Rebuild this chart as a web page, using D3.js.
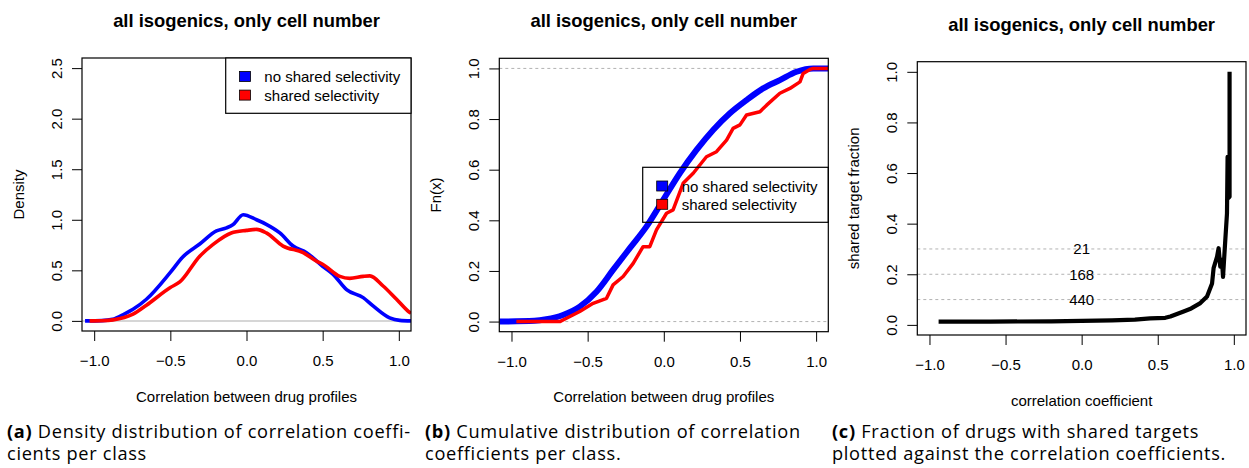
<!DOCTYPE html>
<html><head><meta charset="utf-8">
<script src="https://cdn.jsdelivr.net/npm/d3@7"></script>
<style>body{margin:0;background:#fff} svg{display:block}</style>
</head><body>
<svg id="c" width="1249" height="468"></svg>
<script>
// ---------- data ----------
const xTicks = [-1.0, -0.5, 0.0, 0.5, 1.0];
const densityTicks = [0, 0.5, 1.0, 1.5, 2.0, 2.5];
const fractionTicks = [0, 0.2, 0.4, 0.6, 0.8, 1.0];
const panelTitle = "all isogenics, only cell number";
const seriesNames = ["no shared selectivity", "shared selectivity"];
const seriesColors = ["#0000ff", "#ff0000"];

// (a) density
const densNoSharedX = [-1.06,-0.95,-0.88,-0.8,-0.745,-0.657,-0.5,-0.42,-0.307,-0.197,-0.131,-0.09,-0.022,0.066,0.13,0.219,0.306,0.394,0.5,0.569,0.657,0.766,0.831,0.94,1.006,1.08];
const densNoShared  = [0,0.003,0.015,0.07,0.115,0.214,0.48,0.63,0.76,0.89,0.92,0.95,1.05,1.0,0.955,0.87,0.74,0.675,0.54,0.46,0.31,0.23,0.148,0.03,0.005,0];
const densSharedX = [-1.03,-0.95,-0.876,-0.745,-0.657,-0.5,-0.438,-0.307,-0.219,-0.1,0,0.066,0.13,0.24,0.372,0.46,0.5,0.613,0.678,0.766,0.81,0.897,0.985,1.072,1.08];
const densShared  = [0,0.002,0.01,0.066,0.155,0.33,0.385,0.64,0.757,0.87,0.895,0.905,0.87,0.74,0.675,0.59,0.56,0.44,0.42,0.44,0.445,0.345,0.214,0.083,0.075];

// (b) ecdf
const ecdfNoSharedX = [-1.08,-0.85,-0.771,-0.662,-0.552,-0.442,-0.333,-0.223,-0.114,-0.005,0.105,0.215,0.324,0.434,0.543,0.652,0.762,0.872,0.981,1.08];
const ecdfNoShared  = [0,0.003,0.009,0.026,0.059,0.118,0.204,0.29,0.375,0.48,0.586,0.678,0.757,0.823,0.875,0.921,0.954,0.987,1.0,1.0];
const ecdfSharedX = [-0.968,-0.683,-0.639,-0.552,-0.464,-0.376,-0.333,-0.267,-0.201,-0.136,-0.092,-0.048,0.018,0.061,0.127,0.193,0.28,0.346,0.412,0.455,0.5,0.543,0.631,0.675,0.762,0.828,0.894,0.915,0.959,0.981,1.08];
const ecdfShared  = [0,0,0.013,0.04,0.072,0.092,0.145,0.178,0.23,0.296,0.296,0.362,0.428,0.441,0.546,0.586,0.651,0.671,0.717,0.763,0.777,0.816,0.829,0.855,0.902,0.921,0.947,0.98,0.996,1.0,1.0];

// (c) shared target fraction
const fracX = [-0.94,-0.6,-0.2,0.0,0.2,0.35,0.45,0.55,0.583,0.67,0.72,0.78,0.824,0.857,0.867,0.89,0.9,0.911,0.922,0.929,0.944,0.955,0.959,0.962,0.972,0.972];
const fracY = [0.013,0.013,0.014,0.016,0.018,0.021,0.026,0.028,0.033,0.053,0.065,0.086,0.112,0.164,0.224,0.27,0.303,0.23,0.257,0.19,0.336,0.44,0.664,0.5,0.506,1.0];
const countLevels = [0.3, 0.2, 0.1];
const countLabels = ["21", "168", "440"];

// captions
const captionTags = ["(a)", "(b)", "(c)"];
const captionLines = [
  ["Density distribution of correlation coeffi-", "cients per class"],
  ["Cumulative distribution of correlation", "coefficients per class."],
  ["Fraction of drugs with shared targets", "plotted against the correlation coefficients."]
];

// ---------- drawing ----------
const svg = d3.select("#c");
const FONT = "'Liberation Sans', Arial, Helvetica, sans-serif";
const fmt1 = d3.format(".1f");

function panel(cfg) {
  const x = d3.scaleLinear().domain([-1.08, 1.08]).range([cfg.left, cfg.right]);
  const y = d3.scaleLinear().domain(cfg.yDomain).range([cfg.bottom, cfg.top]);
  const g = svg.append("g");
  const cid = "clip" + cfg.id;
  svg.append("clipPath").attr("id", cid).append("rect")
    .attr("x", cfg.left).attr("y", cfg.top)
    .attr("width", cfg.right - cfg.left).attr("height", cfg.bottom - cfg.top);
  const plot = g.append("g").attr("clip-path", `url(#${cid})`);

  const xa = g.append("g").attr("transform", `translate(0,${cfg.bottom})`)
    .call(d3.axisBottom(x).tickValues(xTicks).tickSize(10).tickFormat(fmt1));
  xa.select(".domain").remove();
  xa.selectAll("text").attr("y", 35).attr("dy", 0)
    .attr("font-family", FONT).attr("font-size", 15).attr("fill", "#000");
  xa.selectAll("line").attr("stroke", "#000");

  const ya = g.append("g").attr("transform", `translate(${cfg.left},0)`)
    .call(d3.axisLeft(y).tickValues(cfg.yTicks).tickSize(10).tickFormat(fmt1));
  ya.select(".domain").remove();
  ya.selectAll("text").attr("x", 0).attr("y", -20.5).attr("dy", 0)
    .attr("transform", "rotate(-90)").attr("text-anchor", "middle")
    .attr("font-family", FONT).attr("font-size", 15).attr("fill", "#000");
  ya.selectAll("line").attr("stroke", "#000");

  g.append("rect").attr("x", cfg.left).attr("y", cfg.top)
    .attr("width", cfg.right - cfg.left).attr("height", cfg.bottom - cfg.top)
    .attr("fill", "none").attr("stroke", "#000").attr("stroke-width", 1.2);

  g.append("text").attr("x", (cfg.left + cfg.right) / 2).attr("y", cfg.top - 31)
    .attr("text-anchor", "middle").attr("font-family", FONT).attr("font-weight", "bold")
    .attr("font-size", 18.4).text(panelTitle);
  g.append("text").attr("x", (cfg.left + cfg.right) / 2).attr("y", cfg.bottom + 70.5)
    .attr("text-anchor", "middle").attr("font-family", FONT).attr("font-size", 15).text(cfg.xlabel);
  g.append("text")
    .attr("transform", `translate(${cfg.left - 58},${(cfg.top + cfg.bottom) / 2}) rotate(-90)`)
    .attr("text-anchor", "middle").attr("font-family", FONT).attr("font-size", 15).text(cfg.ylabel);

  return {x, y, plot, g};
}

// ---- panel a ----
(function () {
  const p = panel({id: "a", left: 82, right: 411, top: 58, bottom: 331, yDomain: [-0.1, 2.6],
    yTicks: densityTicks, xlabel: "Correlation between drug profiles", ylabel: "Density"});
  p.plot.append("line").attr("x1", 82).attr("x2", 411).attr("y1", p.y(0)).attr("y2", p.y(0))
    .attr("stroke", "#c8c8c8").attr("stroke-width", 1.5);
  const line = d3.line().x(d => p.x(d[0])).y(d => p.y(d[1])).curve(d3.curveMonotoneX);
  p.plot.append("path").datum(d3.zip(densNoSharedX, densNoShared)).attr("d", line)
    .attr("fill", "none").attr("stroke", seriesColors[0]).attr("stroke-width", 3.6);
  p.plot.append("path").datum(d3.zip(densSharedX, densShared)).attr("d", line)
    .attr("fill", "none").attr("stroke", seriesColors[1]).attr("stroke-width", 3.6);
  const lg = p.g.append("g");
  lg.append("rect").attr("x", 225.7).attr("y", 58).attr("width", 411 - 225.7).attr("height", 55.3)
    .attr("fill", "#fff").attr("stroke", "#000").attr("stroke-width", 1.2);
  seriesNames.forEach((n, i) => {
    lg.append("rect").attr("x", 239.5).attr("y", 71.5 + i * 18.6).attr("width", 11).attr("height", 10)
      .attr("fill", seriesColors[i]).attr("stroke", "#000").attr("stroke-width", 0.8);
    lg.append("text").attr("x", 264.3).attr("y", 82 + i * 18.6).attr("font-family", FONT)
      .attr("font-size", 15).text(n);
  });
})();

// ---- panel b ----
(function () {
  const p = panel({id: "b", left: 499.3, right: 828.3, top: 58.3, bottom: 331.7, yDomain: [-0.04, 1.04],
    yTicks: fractionTicks, xlabel: "Correlation between drug profiles", ylabel: "Fn(x)"});
  [0, 1].forEach(v => p.plot.append("line").attr("x1", 499.3).attr("x2", 828.3)
    .attr("y1", p.y(v)).attr("y2", p.y(v)).attr("stroke", "#b3b3b3").attr("stroke-width", 1)
    .attr("stroke-dasharray", "3,3"));
  const line = d3.line().x(d => p.x(d[0])).y(d => p.y(d[1])).curve(d3.curveMonotoneX);
  p.plot.append("path").datum(d3.zip(ecdfNoSharedX, ecdfNoShared)).attr("d", line)
    .attr("fill", "none").attr("stroke", seriesColors[0]).attr("stroke-width", 6);
  const stepLine = d3.line().x(d => p.x(d[0])).y(d => p.y(d[1])).curve(d3.curveLinear);
  p.plot.append("path").datum(d3.zip(ecdfSharedX, ecdfShared)).attr("d", stepLine)
    .attr("fill", "none").attr("stroke", seriesColors[1]).attr("stroke-width", 3.5)
    .attr("stroke-linejoin", "round");
  const lg = p.g.append("g");
  lg.append("rect").attr("x", 642.7).attr("y", 167.3).attr("width", 828.3 - 642.7).attr("height", 55)
    .attr("fill", "none").attr("stroke", "#000").attr("stroke-width", 1.2);
  seriesNames.forEach((n, i) => {
    lg.append("rect").attr("x", 656.7).attr("y", 181 + i * 18.3).attr("width", 11).attr("height", 10)
      .attr("fill", seriesColors[i]).attr("stroke", "#000").attr("stroke-width", 0.8);
    lg.append("text").attr("x", 681.7).attr("y", 191.5 + i * 18.3).attr("font-family", FONT)
      .attr("font-size", 15).text(n);
  });
})();

// ---- panel c ----
(function () {
  const p = panel({id: "c", left: 917.3, right: 1246, top: 61.7, bottom: 335, yDomain: [-0.04, 1.04],
    yTicks: fractionTicks, xlabel: "correlation coefficient", ylabel: "shared target fraction"});
  countLevels.forEach((lv, i) => {
    p.plot.append("line").attr("x1", 917.3).attr("x2", 1246).attr("y1", p.y(lv)).attr("y2", p.y(lv))
      .attr("stroke", "#b3b3b3").attr("stroke-width", 1).attr("stroke-dasharray", "3,3");
    p.g.append("text").attr("x", p.x(0)).attr("y", p.y(lv) + 5.5).attr("text-anchor", "middle")
      .attr("font-family", FONT).attr("font-size", 15).text(countLabels[i]);
  });
  const line = d3.line().x(d => p.x(d[0])).y(d => p.y(d[1]));
  p.plot.append("path").datum(d3.zip(fracX, fracY)).attr("d", line)
    .attr("fill", "none").attr("stroke", "#000").attr("stroke-width", 4.2)
    .attr("stroke-linejoin", "round");
})();

// ---- captions ----
const capX = [7, 425, 832];
const CFONT = "'Open Sans', 'Noto Sans', sans-serif";
captionTags.forEach((tag, i) => {
  const t = svg.append("text").attr("x", capX[i]).attr("y", 438).attr("font-family", CFONT)
    .attr("font-size", 18.2).attr("letter-spacing", 0.7);
  t.append("tspan").attr("font-weight", "bold").text(tag);
  t.append("tspan").text(" " + captionLines[i][0]);
  svg.append("text").attr("x", capX[i]).attr("y", 460).attr("font-family", CFONT)
    .attr("font-size", 18.2).attr("letter-spacing", 0.7).text(captionLines[i][1]);
});
</script>
</body></html>
